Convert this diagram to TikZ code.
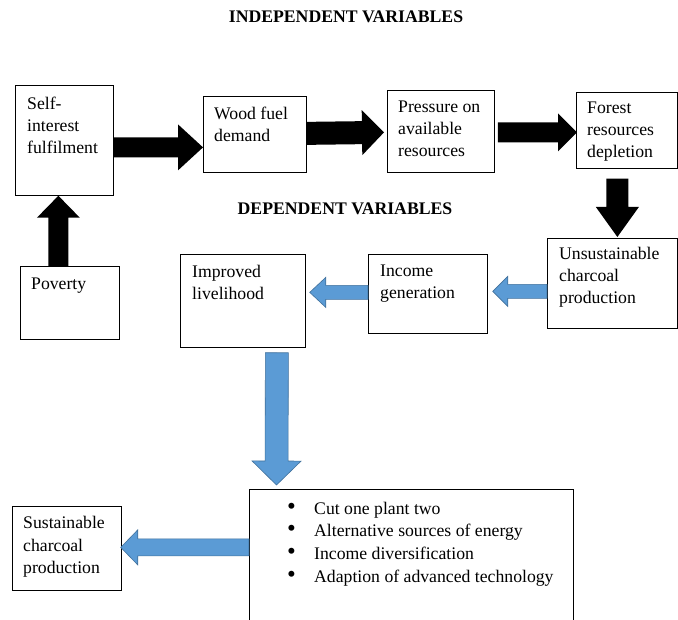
\documentclass[tikz,border=0pt]{standalone}
\usepackage{fontspec}
\setmainfont{Liberation Serif}
\usetikzlibrary{calc}
\definecolor{arrowblue}{HTML}{5B9BD5}
\definecolor{arrowedge}{HTML}{41719C}
\newcommand{\blockarrow}[6]{%
  \coordinate (hb) at ($(#3)!#6!(#2)$);
  \path[#1] ($(#2)!#4!90:(#3)$) -- ($(hb)!#4!90:(#3)$) -- ($(hb)!#5!90:(#3)$) -- (#3)
    -- ($(hb)!#5!-90:(#3)$) -- ($(hb)!#4!-90:(#3)$) -- ($(#2)!#4!-90:(#3)$) -- cycle;}
\newcommand{\bul}{\makebox[27pt][l]{\fontsize{25}{22}\selectfont •}}
\tikzset{
  boxstyle/.style={draw=black, line width=0.75pt, inner sep=0pt, anchor=north west},
  txt/.style={anchor=base west, inner sep=0pt, font=\fontsize{17.7}{22}\selectfont},
  titletxt/.style={anchor=base, inner sep=0pt, font=\fontsize{17.7}{22}\selectfont\bfseries},
  blackarrow/.style={fill=black},
  bluearrow/.style={fill=arrowblue, draw=arrowedge, line width=0.6pt, line join=miter}
}
\begin{document}
\begin{tikzpicture}[x=1pt, y=-1pt]
\clip (0,0) rectangle (678,620);
\fill[white] (0,0) rectangle (678,620);
% titles
\node[titletxt] (t1) at (346,23) {INDEPENDENT VARIABLES};
\node[titletxt] (t2) at (345,215) {DEPENDENT VARIABLES};
% boxes
\node[boxstyle, minimum width=98pt, minimum height=110pt] (si) at (15,85) {};
\node[boxstyle, minimum width=103pt, minimum height=76pt] (wf) at (203,96) {};
\node[boxstyle, minimum width=107pt, minimum height=82pt] (pr) at (387,90) {};
\node[boxstyle, minimum width=101pt, minimum height=76pt] (fr) at (576,92) {};
\node[boxstyle, minimum width=99pt, minimum height=73pt] (po) at (20,266) {};
\node[boxstyle, minimum width=125pt, minimum height=93pt] (im) at (180,254) {};
\node[boxstyle, minimum width=119pt, minimum height=79pt] (ig) at (368,254) {};
\node[boxstyle, minimum width=130pt, minimum height=90pt] (un) at (547,238) {};
\node[boxstyle, minimum width=109pt, minimum height=84pt] (su) at (12,506) {};
\node[boxstyle, minimum width=324pt, minimum height=141pt] (bl) at (249,489) {};
% texts
\node[txt] (tsi) at (27,110) {\vtop{\hbox{Self-}\hbox{interest}\hbox{fulfilment}}};
\node[txt] (twf) at (214,120) {\vtop{\hbox{Wood fuel}\hbox{demand}}};
\node[txt] (tpr) at (398,113) {\vtop{\hbox{Pressure on}\hbox{available}\hbox{resources}}};
\node[txt] (tfr) at (587,114) {\vtop{\hbox{Forest}\hbox{resources}\hbox{depletion}}};
\node[txt] (tpo) at (31,290) {Poverty};
\node[txt] (tim) at (192,278) {\vtop{\hbox{Improved}\hbox{livelihood}}};
\node[txt] (tig) at (380,277) {\vtop{\hbox{Income}\hbox{generation}}};
\node[txt] (tun) at (559,260) {\vtop{\hbox{Unsustainable}\hbox{charcoal}\hbox{production}}};
\node[txt] (tsu) at (23,529) {\vtop{\hbox{Sustainable}\hbox{charcoal}\hbox{production}}};
\node[txt] (tbl) at (287,514) {\vtop{\baselineskip=23pt
  \hbox{\bul Cut one plant two}
  \hbox{\bul Alternative sources of energy}
  \hbox{\bul Income diversification}
  \hbox{\bul Adaption of advanced technology}}};
% connector end points
\coordinate (a1s) at ([yshift=-7pt]si.east);
\coordinate (a1e) at ([yshift=-13pt]wf.west);
\coordinate (a2s) at ([yshift=1pt]wf.east);
\coordinate (a2e) at ([xshift=-3pt,yshift=-1pt]pr.west);
\coordinate (a3s) at ([xshift=3pt,yshift=-1pt]pr.east);
\coordinate (a3e) at ([xshift=1pt,yshift=-2pt]fr.west);
\coordinate (a4s) at ([xshift=-9.5pt,yshift=-10pt]fr.south);
\coordinate (a4e) at ([xshift=5pt,yshift=1pt]un.north);
\coordinate (a5s) at ([xshift=-11.5pt]po.north);
\coordinate (a5e) at ([xshift=-6pt]si.south);
\coordinate (b1s) at ([yshift=-8pt]un.west);
\coordinate (b1e) at ([xshift=5pt,yshift=2.5pt]ig.east);
\coordinate (b2s) at ([yshift=1.5pt]ig.west);
\coordinate (b2e) at ([xshift=4pt,yshift=8.5pt]im.east);
\coordinate (b3s) at ([xshift=34pt,yshift=-5pt]im.south);
\coordinate (b3e) at ([xshift=27.5pt,yshift=4pt]bl.north west);
\coordinate (b4s) at ([yshift=12.5pt]bl.west);
\coordinate (b4e) at ([xshift=-1pt,yshift=1pt]su.east);
% black arrows
\blockarrow{blackarrow}{a1s}{a1e}{10pt}{23pt}{25pt}
\blockarrow{blackarrow}{a2s}{a2e}{11.5pt}{22.5pt}{22pt}
\blockarrow{blackarrow}{a3s}{a3e}{10pt}{19pt}{19pt}
\blockarrow{blackarrow}{a4s}{a4e}{11pt}{21.5pt}{30pt}
\blockarrow{blackarrow}{a5s}{a5e}{10pt}{21.5pt}{22pt}
% blue arrows
\blockarrow{bluearrow}{b1s}{b1e}{7pt}{15pt}{15pt}
\blockarrow{bluearrow}{b2s}{b2e}{7pt}{15pt}{16pt}
\blockarrow{bluearrow}{b3s}{b3e}{11.5pt}{24.5pt}{24pt}
\blockarrow{bluearrow}{b4s}{b4e}{8.5pt}{17.5pt}{17pt}
\end{tikzpicture}
\end{document}
